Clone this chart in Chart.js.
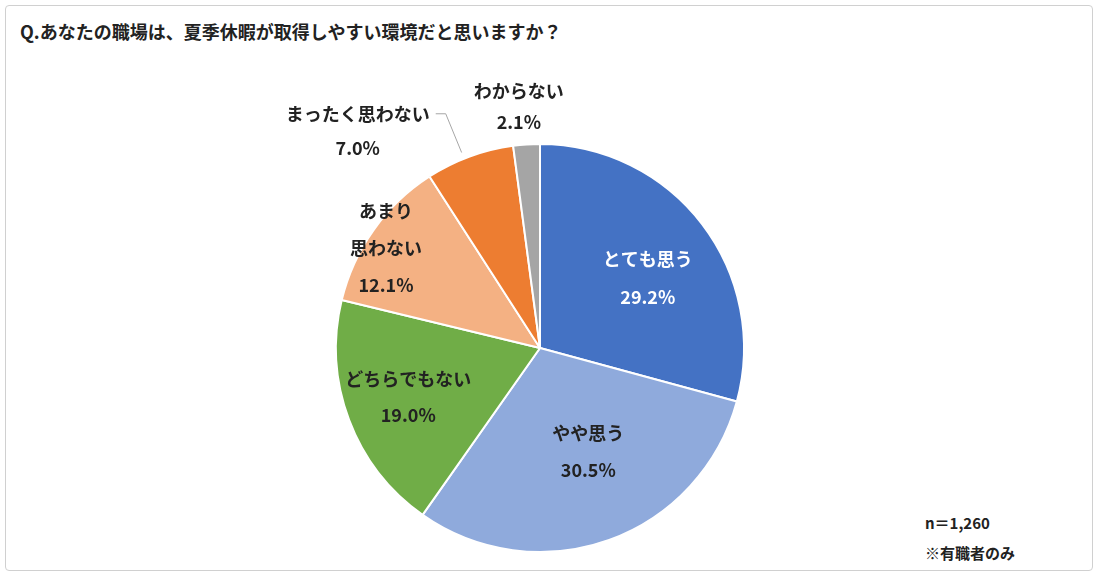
<!DOCTYPE html>
<html><head><meta charset="utf-8">
<script src="https://cdn.jsdelivr.net/npm/chart.js@4"></script>
<style>
body{margin:0;background:#fff;font-family:"Noto Sans CJK JP",sans-serif;}
#wrap{position:absolute;left:0;top:0;width:1100px;height:578px;}
#frame{position:absolute;left:5px;top:5px;width:1088px;height:566px;border:1px solid #d0d0d0;border-radius:4px;box-sizing:border-box;}
#title{position:absolute;left:20px;top:18px;font-size:18px;font-weight:bold;color:#222;}
#note{position:absolute;left:925px;top:508px;font-size:15px;font-weight:bold;color:#222;line-height:30px;}
canvas{position:absolute;left:0;top:0;}
</style></head><body>
<div id="wrap"><div id="frame"></div>
<div id="title">Q.あなたの職場は、夏季休暇が取得しやすい環境だと思いますか？</div>
<div id="note">n＝1,260<br>※有職者のみ</div>
<canvas id="c" width="1100" height="578"></canvas></div>
<script>
const categories=["とても思う","やや思う","どちらでもない","あまり\n思わない","まったく思わない","わからない"];
const values=[29.2,30.5,19.0,12.1,7.0,2.1];
const colors=["#4472C4","#8FAADC","#70AD47","#F4B183","#ED7D31","#A5A5A5"];
const textColors=["#fff","#222","#222","#222","#222","#222"];
// label placement: radius factor and angle (deg, clockwise from 3 o'clock; null=slice middle)
const labelR=[0.63,0.56,0.69,0.9,1.39,1.19];
const labelA=[-33,65,null,213,230,265];
const lineH=[38,37,36,37,34,31];

const labelPlugin={id:'lbl',afterDatasetsDraw(chart){
 const ctx=chart.ctx;const meta=chart.getDatasetMeta(0);
 meta.data.forEach((arc,i)=>{
  const a=labelA[i]!==null?labelA[i]*Math.PI/180:(arc.startAngle+arc.endAngle)/2;
  const r=arc.outerRadius*labelR[i];
  const x=arc.x+Math.cos(a)*r,y=arc.y+Math.sin(a)*r;
  const lines=categories[i].split("\n").concat([values[i].toFixed(1)+"%"]);
  ctx.save();ctx.font='bold 18px "Noto Sans CJK JP"';ctx.fillStyle=textColors[i];
  ctx.textAlign='center';ctx.textBaseline='middle';
  const h=lineH[i];const y0=y-(lines.length-1)*h/2;
  lines.forEach((t,k)=>ctx.fillText(t,x,y0+k*h));
  if(i===4){
   const m=(arc.startAngle+arc.endAngle)/2;
   const ex=arc.x+Math.cos(m)*arc.outerRadius*1.0, ey=arc.y+Math.sin(m)*arc.outerRadius*1.0;
   const sx=x+ctx.measureText(lines[0]).width/2+6, sy=y0;
   ctx.strokeStyle='#a6a6a6';ctx.lineWidth=1;ctx.beginPath();
   ctx.moveTo(sx,sy);ctx.lineTo(sx+10,sy);ctx.lineTo(ex-8,ey-4);ctx.stroke();
  }
  ctx.restore();
 });
}};
new Chart(document.getElementById('c'),{type:'pie',
 data:{labels:categories,datasets:[{data:values,backgroundColor:colors,borderColor:'#fff',borderWidth:2}]},
 options:{responsive:false,animation:false,layout:{padding:{top:143,bottom:25,left:335,right:355}},
  plugins:{legend:{display:false},tooltip:{enabled:false}}},
 plugins:[labelPlugin]});
</script></body></html>
